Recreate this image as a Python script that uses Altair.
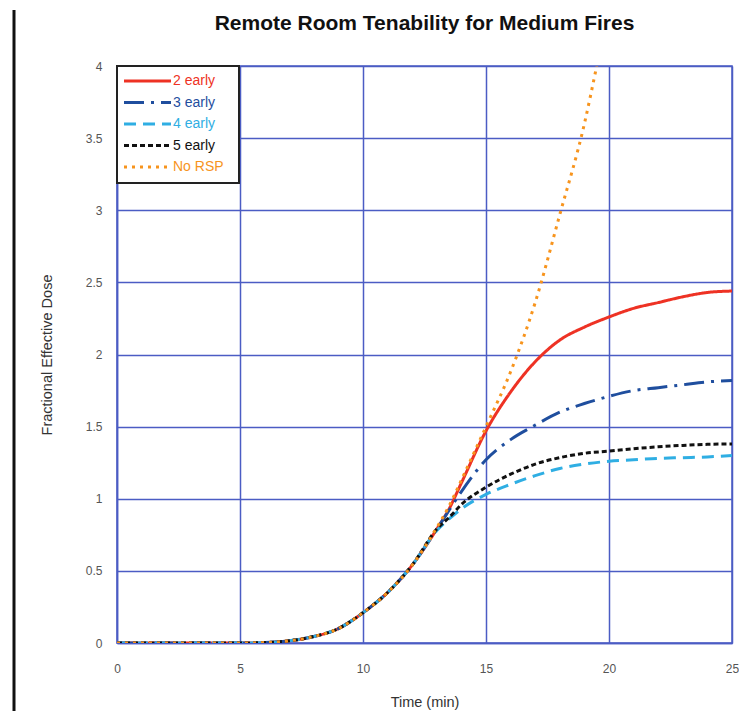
import altair as alt
import pandas as pd

# ---- data ----
series = ["2 early", "3 early", "4 early", "5 early", "No RSP"]
colors = ["#ee3224", "#1f4e9e", "#2faee3", "#111111", "#f7941d"]
dashes = [[1, 0], [20, 7, 3, 7], [12, 7], [5, 3], [3, 5]]

time = [0, 1, 2, 3, 4, 5, 6, 7, 8, 9, 10, 11, 12, 13, 13.5,
        14, 15, 16, 17, 18, 19, 20, 21, 22, 23, 24, 25]
common = [0, 0, 0, 0, 0, 0, 0.003, 0.015, 0.045, 0.10, 0.21, 0.35, 0.54]

early2 = common + [0.79, 0.93, 1.11, 1.47, 1.74, 1.95, 2.10, 2.19, 2.26, 2.32, 2.36, 2.40, 2.43, 2.44]
early3 = common + [0.79, 0.92, 1.05, 1.27, 1.41, 1.51, 1.60, 1.66, 1.71, 1.75, 1.77, 1.79, 1.81, 1.82]
early4 = common + [0.78, 0.86, 0.93, 1.03, 1.10, 1.16, 1.21, 1.24, 1.26, 1.27, 1.28, 1.285, 1.29, 1.30]
early5 = common + [0.79, 0.87, 0.96, 1.08, 1.17, 1.24, 1.285, 1.315, 1.33, 1.347, 1.36, 1.37, 1.377, 1.38]

time_norsp = [0, 1, 2, 3, 4, 5, 6, 7, 8, 9, 10, 11, 12, 13, 13.5, 14, 15, 16, 17, 18, 19, 19.5]
norsp = common + [0.80, 0.95, 1.13, 1.50, 1.88, 2.36, 2.97, 3.60, 4.0]

x_ticks = [0, 5, 10, 15, 20, 25]
y_ticks = [0, 0.5, 1, 1.5, 2, 2.5, 3, 3.5, 4]

# ---- build tables ----
rows = []
for name, vals in zip(series[:4], [early2, early3, early4, early5]):
    for t, v in zip(time, vals):
        rows.append({"time": t, "fed": v, "series": name})
for t, v in zip(time_norsp, norsp):
    rows.append({"time": t, "fed": v, "series": "No RSP"})
df = pd.DataFrame(rows)

legend_df = pd.DataFrame({"series": series, "i": list(range(len(series)))})

FONT = "Liberation Sans"
GRID = "#4b5cc4"
W, H = 615, 577

color_scale = alt.Scale(domain=series, range=colors)
dash_scale = alt.Scale(domain=series, range=dashes)

lines = alt.Chart(df).mark_line(strokeWidth=3, interpolate="monotone", clip=True).encode(
    x=alt.X("time:Q", title="Time (min)",
            scale=alt.Scale(domain=[0, 25], nice=False),
            axis=alt.Axis(values=x_ticks, ticks=False, labelFlush=False, labelPadding=20,
                          titlePadding=21, gridColor=GRID, gridWidth=1.5,
                          domainColor=GRID, domainWidth=1.5)),
    y=alt.Y("fed:Q", title="Fractional Effective Dose",
            scale=alt.Scale(domain=[0, 4], nice=False),
            axis=alt.Axis(values=y_ticks, format="~g", ticks=False, labelFlush=False,
                          labelPadding=15, titlePadding=31, gridColor=GRID, gridWidth=1.5,
                          domainColor=GRID, domainWidth=1.5)),
    color=alt.Color("series:N", scale=color_scale, legend=None),
    strokeDash=alt.StrokeDash("series:N", scale=dash_scale, legend=None),
    detail="series:N",
)

one = alt.Data(values=[{}])

box = alt.Chart(one).mark_rect(fill="white", stroke="#222222", strokeWidth=2).encode(
    x=alt.value(0), x2=alt.value(122), y=alt.value(0), y2=alt.value(117)
)

leg_base = alt.Chart(legend_df).transform_calculate(ly="15 + datum.i * 21.5")

leg_lines = leg_base.mark_rule(strokeWidth=3).encode(
    x=alt.value(7), x2=alt.value(54),
    y=alt.Y("ly:Q", scale=None),
    color=alt.Color("series:N", scale=color_scale, legend=None),
    strokeDash=alt.StrokeDash("series:N", scale=dash_scale, legend=None),
)

leg_text = leg_base.mark_text(align="left", baseline="middle", fontSize=14, font=FONT).encode(
    x=alt.value(56),
    y=alt.Y("ly:Q", scale=None),
    text="series:N",
    color=alt.Color("series:N", scale=color_scale, legend=None),
)

side_rule = alt.Chart(one).mark_rule(color="#111111", strokeWidth=3).encode(
    x=alt.value(-103), y=alt.value(-56), y2=alt.value(645)
)

chart = alt.layer(lines, box, leg_lines, leg_text, side_rule).resolve_scale(
    color="shared", strokeDash="shared"
).properties(
    width=W, height=H,
    padding={"left": 4, "top": 0, "right": 0, "bottom": 0},
    title=alt.TitleParams("Remote Room Tenability for Medium Fires", anchor="middle",
                          fontSize=21, font=FONT, fontWeight="bold", color="#111111",
                          frame="group", baseline="alphabetic", offset=-42),
).configure_view(
    stroke=GRID, strokeWidth=1.5
).configure_axis(
    labelFont=FONT, labelFontSize=12, labelColor="#555555",
    titleFont=FONT, titleFontSize=14.5, titleColor="#333333", titleFontWeight="normal",
)

chart.save("out.html", embed_options={"renderer": "svg", "actions": False})
